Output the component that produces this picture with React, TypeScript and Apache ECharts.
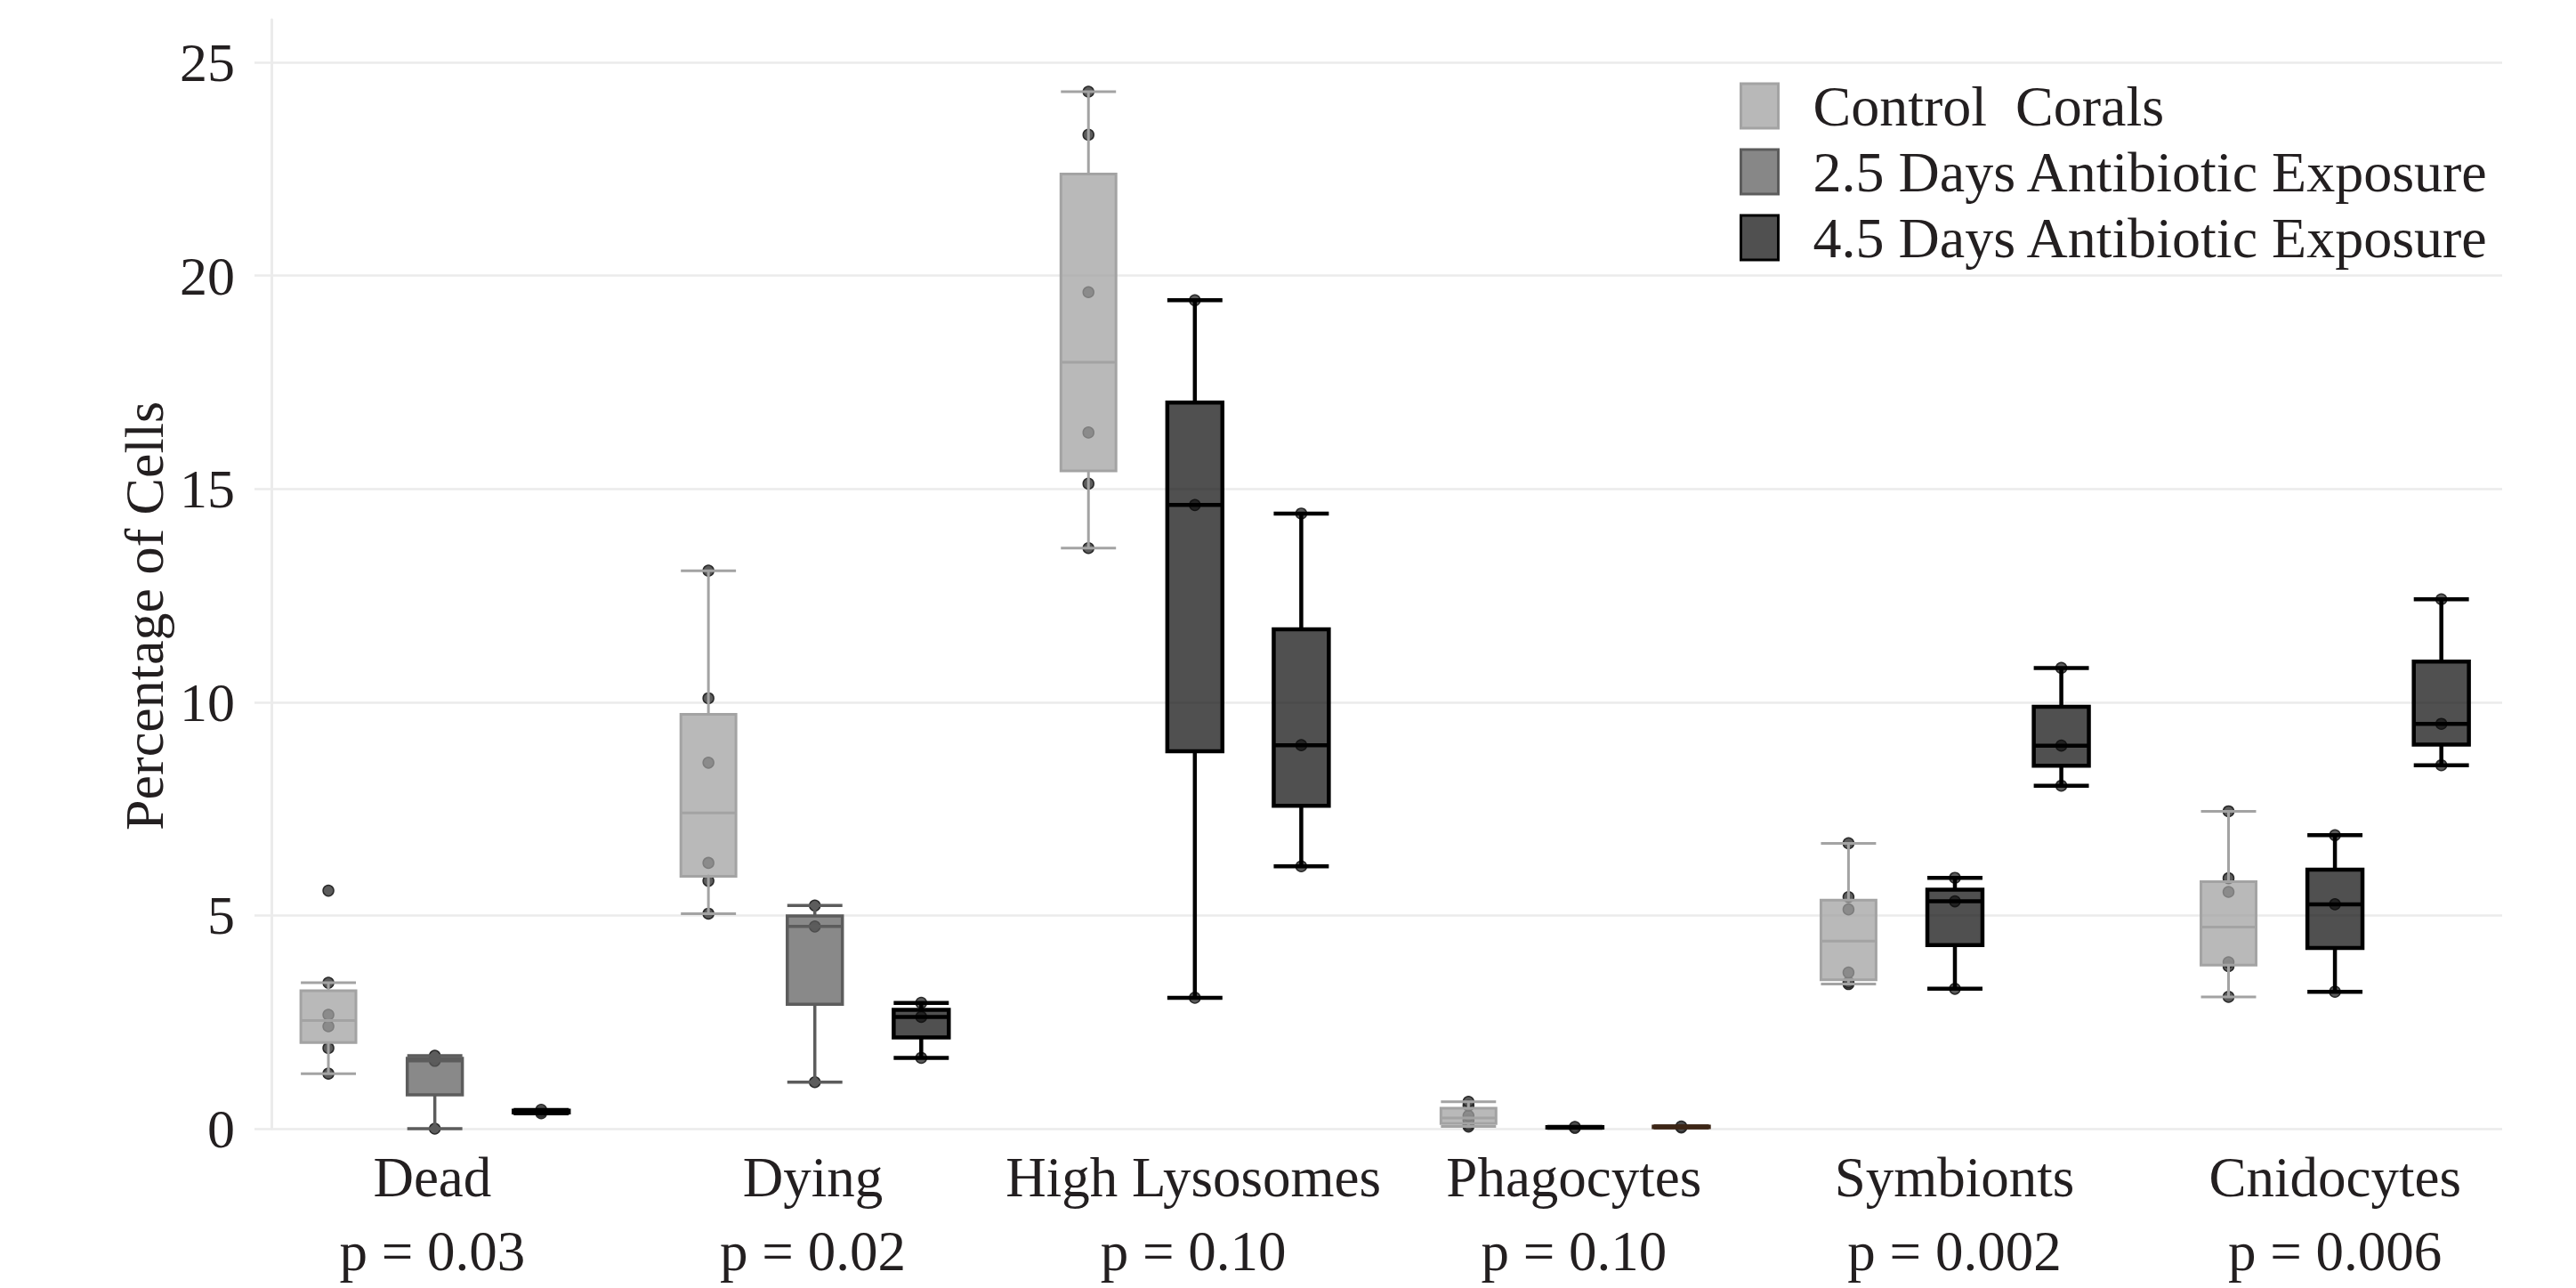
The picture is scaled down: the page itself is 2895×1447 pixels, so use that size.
import React, { useEffect, useRef } from 'react';
import * as echarts from 'echarts';

// ---------------- data ----------------
const categories = ['Dead', 'Dying', 'High Lysosomes', 'Phagocytes', 'Symbionts', 'Cnidocytes'];
const pValues = ['p = 0.03', 'p = 0.02', 'p = 0.10', 'p = 0.10', 'p = 0.002', 'p = 0.006'];
const seriesNames = ['Control  Corals', '2.5 Days Antibiotic Exposure', '4.5 Days Antibiotic Exposure'];

const controlValues = [
  [1.29, 1.89, 2.4, 2.67, 3.42, 5.58],
  [5.04, 5.81, 6.23, 8.58, 10.09, 13.08],
  [13.61, 15.12, 16.32, 19.61, 23.3, 24.31],
  [0.05, 0.09, 0.2, 0.3, 0.54, 0.63],
  [3.39, 3.43, 3.66, 5.14, 5.43, 6.69],
  [3.09, 3.81, 3.9, 5.55, 5.87, 7.44],
];
const day25Values = [
  [0.0, 1.59, 1.71],
  [1.09, 4.74, 5.23],
  [3.07, 14.62, 19.42],
  [0.02, 0.03, 0.04],
  [3.28, 5.33, 5.88],
  [3.21, 5.26, 6.88],
];
const day45Values = [
  [0.36, 0.4, 0.44],
  [1.66, 2.62, 2.95],
  [6.15, 8.99, 14.42],
  [0.03, 0.04, 0.05],
  [8.04, 8.98, 10.8],
  [8.52, 9.49, 12.41],
];
const yTicks = [0, 5, 10, 15, 20, 25];

// ---------------- styles / layout ----------------
const FONT = "'Liberation Serif', 'DejaVu Serif', serif";
const TEXT = '#231f20';
const GRID_COLOR = '#ebebeb';
const OFFSETS = [-0.28, 0, 0.28];
const BOX_W = 0.145;

const LOOKS: Record<string, { fill: string; stroke: string; width: number }> = {
  light: { fill: 'rgba(158,158,158,0.72)', stroke: '#a3a3a3', width: 3 },
  mid: { fill: 'rgba(92,92,92,0.72)', stroke: '#5c5c5c', width: 3.5 },
  dark: { fill: 'rgba(12,12,12,0.72)', stroke: '#000000', width: 4.5 },
  black: { fill: '#000000', stroke: '#000000', width: 4.5 },
  brown: { fill: '#3d2616', stroke: '#3d2616', width: 4.5 },
};
const boxLook = [
  ['light', 'light', 'light', 'light', 'light', 'light'],
  ['mid', 'mid', 'dark', 'black', 'dark', 'dark'],
  ['black', 'dark', 'dark', 'brown', 'dark', 'dark'],
];
const legendLook = [
  { color: '#b8b8b8', borderColor: '#a3a3a3' },
  { color: '#878787', borderColor: '#5c5c5c' },
  { color: '#505050', borderColor: '#000000' },
];

function quantileLinear(s: number[], p: number) {
  const pos = (s.length - 1) * p;
  const lo = Math.floor(pos);
  const hi = Math.ceil(pos);
  return s[lo] + (s[hi] - s[lo]) * (pos - lo);
}
function boxStats(vals: number[]) {
  const s = [...vals].sort((a, b) => a - b);
  const q1 = quantileLinear(s, 0.25);
  const med = quantileLinear(s, 0.5);
  const q3 = quantileLinear(s, 0.75);
  const iqr = q3 - q1;
  const inside = s.filter((v) => v >= q1 - 1.5 * iqr && v <= q3 + 1.5 * iqr);
  return [inside[0], q1, med, q3, inside[inside.length - 1]];
}

export default function App() {
  const ref = useRef<HTMLDivElement>(null);
  useEffect(() => {
    if (!ref.current) return;
    const chart = echarts.init(ref.current, undefined, { renderer: 'svg' });
    const groups = [controlValues, day25Values, day45Values];

    const boxSeries = groups.map((g, s) => ({
      type: 'custom',
      name: seriesNames[s],
      xAxisIndex: 0,
      yAxisIndex: 0,
      z: 3,
      encode: { x: 0, y: [1, 2, 3, 4, 5] },
      data: g.map((vals, i) => [i + OFFSETS[s], ...boxStats(vals)]),
      itemStyle: { color: legendLook[s].color, borderColor: legendLook[s].borderColor },
      renderItem: (params: any, api: any) => {
        const look = LOOKS[boxLook[s][params.dataIndex]];
        const x = api.value(0);
        const pLo = api.coord([x, api.value(1)]);
        const pQ1 = api.coord([x, api.value(2)]);
        const pMed = api.coord([x, api.value(3)]);
        const pQ3 = api.coord([x, api.value(4)]);
        const pHi = api.coord([x, api.value(5)]);
        const half = api.size([BOX_W, 0])[0] / 2;
        const cx = pMed[0];
        const ls = { stroke: look.stroke, lineWidth: look.width, fill: null };
        return {
          type: 'group',
          children: [
            { type: 'line', shape: { x1: cx, y1: pHi[1], x2: cx, y2: pQ3[1] }, style: ls },
            { type: 'line', shape: { x1: cx, y1: pQ1[1], x2: cx, y2: pLo[1] }, style: ls },
            { type: 'line', shape: { x1: cx - half, y1: pHi[1], x2: cx + half, y2: pHi[1] }, style: ls },
            { type: 'line', shape: { x1: cx - half, y1: pLo[1], x2: cx + half, y2: pLo[1] }, style: ls },
            {
              type: 'rect',
              shape: { x: cx - half, y: pQ3[1], width: half * 2, height: Math.max(pQ1[1] - pQ3[1], 0.5) },
              style: { fill: look.fill, stroke: look.stroke, lineWidth: look.width },
            },
            { type: 'line', shape: { x1: cx - half, y1: pMed[1], x2: cx + half, y2: pMed[1] }, style: ls },
          ],
        };
      },
    }));

    const pointSeries = groups.map((g, s) => ({
      type: 'scatter',
      name: 'points-' + s,
      xAxisIndex: 0,
      yAxisIndex: 0,
      z: 2,
      symbol: 'circle',
      symbolSize: 12,
      itemStyle: { color: 'rgba(78,78,78,0.92)', borderColor: '#2a2a2a', borderWidth: 1.5, opacity: 1 },
      data: g.flatMap((vals, i) => vals.map((v) => [i + OFFSETS[s], v])),
    }));

    chart.setOption({
      animation: false,
      backgroundColor: '#ffffff',
      grid: [
        { left: 305, right: 83, top: 22, bottom: 179 },
        { left: 272, right: 57, top: 22, bottom: 179 },
      ],
      xAxis: [
        { type: 'value', gridIndex: 0, min: -0.43, max: 5.44, show: false },
        {
          type: 'category',
          gridIndex: 1,
          data: categories.map((c, i) => c + '\n' + pValues[i]),
          axisLine: { show: false },
          axisTick: { show: false },
          splitLine: { show: false },
          axisLabel: {
            interval: 0,
            fontFamily: FONT,
            fontSize: 63,
            color: TEXT,
            lineHeight: 83,
            margin: 27,
          },
        },
      ],
      yAxis: [
        {
          type: 'value',
          gridIndex: 0,
          min: 0,
          max: 26,
          interval: 5,
          axisLine: { show: true, onZero: false, lineStyle: { color: GRID_COLOR, width: 3 } },
          axisTick: { show: true, length: 19, customValues: yTicks, lineStyle: { color: GRID_COLOR, width: 2.5 } },
          axisLabel: {
            margin: 41,
            fontFamily: FONT,
            fontSize: 62,
            color: TEXT,
            formatter: (v: number) => (yTicks.includes(v) ? String(v) : ''),
          },
          splitLine: { show: true, lineStyle: { color: GRID_COLOR, width: 2.5 } },
        },
        { type: 'value', gridIndex: 1, min: 0, max: 26, show: false },
      ],
      legend: {
        orient: 'vertical',
        left: 1950,
        top: 82,
        itemWidth: 42,
        itemHeight: 50,
        itemGap: 10,
        icon: 'rect',
        selectedMode: false,
        textStyle: { fontFamily: FONT, fontSize: 64, color: TEXT, lineHeight: 50, padding: [0, 0, 0, 34] },
        data: seriesNames.map((n, s) => ({
          name: n,
          itemStyle: { color: legendLook[s].color, borderColor: legendLook[s].borderColor, borderWidth: 3 },
        })),
      },
      graphic: [
        {
          type: 'text',
          x: 162,
          y: 692,
          rotation: Math.PI / 2,
          style: {
            text: 'Percentage of Cells',
            fontFamily: FONT,
            fontSize: 62,
            fill: TEXT,
            align: 'center',
            verticalAlign: 'middle',
          },
        },
      ],
      series: [...pointSeries, ...boxSeries],
    });
    return () => chart.dispose();
  }, []);
  return (
    <div
      ref={ref}
      style={{ position: 'fixed', left: 0, top: 0, width: 2895, height: 1447, background: '#fff' }}
    />
  );
}
